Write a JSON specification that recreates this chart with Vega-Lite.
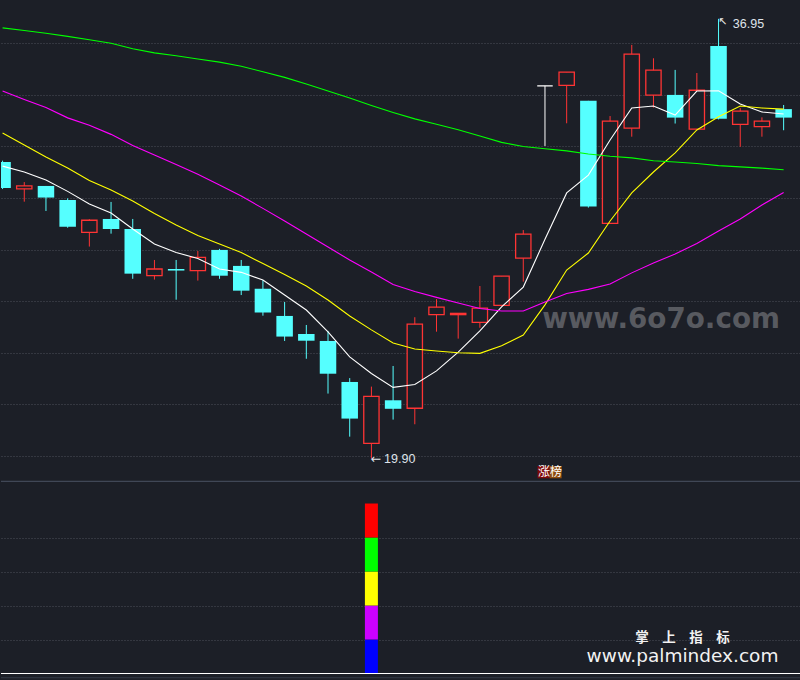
{
  "$schema": "https://vega.github.io/schema/vega-lite/v6.json",
  "background": "#1c1f27",
  "padding": 0,
  "spacing": 0,
  "resolve": {"scale": {"color": "independent", "fill": "independent", "stroke": "independent"}},
  "config": {
    "view": {"stroke": null},
    "axis": {"labels": false, "ticks": false, "domain": false, "minExtent": 0, "maxExtent": 0, "gridColor": "#4c505a", "gridDash": [1, 2], "gridWidth": 1}
  },
  "datasets": {
    "k": [
      {"i":0,"d":"down","o":31.40,"h":31.45,"l":30.35,"c":30.39,"ma5":31.24,"ma10":32.52,"ma20":34.15,"ma60":36.60},
      {"i":1,"d":"up","o":30.36,"h":30.62,"l":29.86,"c":30.47,"ma5":31.01,"ma10":32.06,"ma20":33.82,"ma60":36.50},
      {"i":2,"d":"down","o":30.47,"h":30.47,"l":29.50,"c":30.02,"ma5":30.70,"ma10":31.59,"ma20":33.51,"ma60":36.39},
      {"i":3,"d":"down","o":29.93,"h":29.99,"l":28.85,"c":28.89,"ma5":30.26,"ma10":31.17,"ma20":33.11,"ma60":36.27},
      {"i":4,"d":"up","o":28.67,"h":29.18,"l":28.12,"c":29.14,"ma5":29.77,"ma10":30.68,"ma20":32.82,"ma60":36.14},
      {"i":5,"d":"down","o":29.19,"h":29.85,"l":28.62,"c":28.80,"ma5":29.42,"ma10":30.31,"ma20":32.47,"ma60":36.00},
      {"i":6,"d":"down","o":28.80,"h":29.19,"l":26.87,"c":27.07,"ma5":28.80,"ma10":29.89,"ma20":32.04,"ma60":35.79},
      {"i":7,"d":"up","o":26.99,"h":27.60,"l":26.84,"c":27.25,"ma5":28.22,"ma10":29.40,"ma20":31.67,"ma60":35.63},
      {"i":8,"d":"down","o":27.25,"h":27.60,"l":26.06,"c":27.19,"ma5":27.89,"ma10":28.96,"ma20":31.30,"ma60":35.52},
      {"i":9,"d":"up","o":27.19,"h":27.95,"l":26.80,"c":27.70,"ma5":27.66,"ma10":28.55,"ma20":30.92,"ma60":35.39},
      {"i":10,"d":"down","o":27.99,"h":28.03,"l":26.87,"c":26.99,"ma5":27.25,"ma10":28.22,"ma20":30.51,"ma60":35.27},
      {"i":11,"d":"down","o":27.37,"h":27.60,"l":26.24,"c":26.41,"ma5":27.12,"ma10":27.89,"ma20":30.08,"ma60":35.11},
      {"i":12,"d":"down","o":26.48,"h":26.82,"l":25.44,"c":25.56,"ma5":26.82,"ma10":27.46,"ma20":29.60,"ma60":34.90},
      {"i":13,"d":"down","o":25.43,"h":25.97,"l":24.46,"c":24.63,"ma5":26.24,"ma10":27.04,"ma20":29.11,"ma60":34.68},
      {"i":14,"d":"down","o":24.73,"h":25.08,"l":23.77,"c":24.47,"ma5":25.66,"ma10":26.59,"ma20":28.61,"ma60":34.42},
      {"i":15,"d":"down","o":24.46,"h":24.85,"l":22.42,"c":23.19,"ma5":24.81,"ma10":26.05,"ma20":28.10,"ma60":34.15},
      {"i":16,"d":"down","o":22.87,"h":23.02,"l":20.75,"c":21.45,"ma5":23.84,"ma10":25.43,"ma20":27.60,"ma60":33.88},
      {"i":17,"d":"up","o":20.49,"h":22.69,"l":19.90,"c":22.31,"ma5":23.20,"ma10":24.89,"ma20":27.13,"ma60":33.59},
      {"i":18,"d":"down","o":22.16,"h":23.49,"l":21.41,"c":21.83,"ma5":22.66,"ma10":24.38,"ma20":26.65,"ma60":33.32},
      {"i":19,"d":"up","o":21.85,"h":25.38,"l":21.23,"c":25.11,"ma5":22.77,"ma10":24.15,"ma20":26.38,"ma60":33.07},
      {"i":20,"d":"up","o":25.48,"h":26.08,"l":24.82,"c":25.77,"ma5":23.30,"ma10":24.07,"ma20":26.15,"ma60":32.86},
      {"i":21,"d":"up","o":25.48,"h":25.53,"l":24.55,"c":25.53,"ma5":24.03,"ma10":24.00,"ma20":25.93,"ma60":32.65},
      {"i":22,"d":"up","o":25.18,"h":26.59,"l":24.97,"c":25.73,"ma5":24.85,"ma10":23.98,"ma20":25.72,"ma60":32.41},
      {"i":23,"d":"up","o":25.84,"h":26.97,"l":25.84,"c":26.97,"ma5":25.78,"ma10":24.27,"ma20":25.62,"ma60":32.16},
      {"i":24,"d":"up","o":27.67,"h":28.76,"l":26.76,"c":28.60,"ma5":26.55,"ma10":24.69,"ma20":25.62,"ma60":32.00},
      {"i":25,"d":"flat","o":34.35,"h":34.35,"l":32.02,"c":34.35,"ma5":28.40,"ma10":25.86,"ma20":25.97,"ma60":31.91},
      {"i":26,"d":"up","o":34.37,"h":34.88,"l":32.90,"c":34.88,"ma5":30.20,"ma10":27.21,"ma20":26.30,"ma60":31.83},
      {"i":27,"d":"down","o":33.77,"h":33.77,"l":29.63,"c":29.67,"ma5":30.89,"ma10":27.87,"ma20":26.46,"ma60":31.71},
      {"i":28,"d":"up","o":29.02,"h":33.18,"l":29.02,"c":32.98,"ma5":32.25,"ma10":29.11,"ma20":26.67,"ma60":31.62},
      {"i":29,"d":"up","o":32.71,"h":35.94,"l":32.38,"c":35.58,"ma5":33.49,"ma10":30.20,"ma20":27.10,"ma60":31.56},
      {"i":30,"d":"up","o":33.99,"h":35.42,"l":33.51,"c":34.96,"ma5":33.57,"ma10":31.01,"ma20":27.48,"ma60":31.45},
      {"i":31,"d":"down","o":34.00,"h":34.97,"l":32.89,"c":33.12,"ma5":33.22,"ma10":31.75,"ma20":27.83,"ma60":31.40},
      {"i":32,"d":"up","o":32.67,"h":34.85,"l":32.67,"c":34.18,"ma5":34.15,"ma10":32.64,"ma20":28.24,"ma60":31.34},
      {"i":33,"d":"down","o":35.90,"h":36.95,"l":33.05,"c":33.08,"ma5":34.16,"ma10":33.15,"ma20":28.72,"ma60":31.26},
      {"i":34,"d":"up","o":32.86,"h":33.49,"l":31.99,"c":33.37,"ma5":33.65,"ma10":33.57,"ma20":29.19,"ma60":31.21},
      {"i":35,"d":"up","o":32.77,"h":33.13,"l":32.38,"c":32.98,"ma5":33.34,"ma10":33.49,"ma20":29.73,"ma60":31.16},
      {"i":36,"d":"down","o":33.45,"h":33.61,"l":32.63,"c":33.12,"ma5":33.26,"ma10":33.45,"ma20":30.22,"ma60":31.10}
    ],
    "bars": [
      {"i":17,"lvl":1,"band":"b1","v":1},
      {"i":17,"lvl":2,"band":"b2","v":1},
      {"i":17,"lvl":3,"band":"b3","v":1},
      {"i":17,"lvl":4,"band":"b4","v":1},
      {"i":17,"lvl":5,"band":"b5","v":1}
    ]
  },
  "vconcat": [
    {
      "width": 800,
      "height": 480,
      "layer": [
        {
          "data": {"name": "k"},
          "mark": {"type": "rule", "clip": true, "strokeWidth": 1},
          "encoding": {
            "x": {"field": "i", "type": "quantitative", "scale": {"domain": [0.158, 36.57], "nice": false, "zero": false}, "axis": null},
            "y": {"field": "l", "type": "quantitative", "scale": {"domain": [19.069, 37.68], "nice": false, "zero": false}, "axis": {"grid": true, "values": [20, 22, 24, 26, 28, 30, 32, 34, 36], "title": null}},
            "y2": {"field": "h"},
            "color": {"field": "d", "type": "nominal", "scale": {"domain": ["up", "down", "flat"], "range": ["#ff3434", "#55ffff", "#ffffff"]}, "legend": null}
          }
        },
        {
          "data": {"name": "k"},
          "transform": [{"filter": "datum.d == 'down'"}],
          "mark": {"type": "bar", "clip": true, "width": 16.5, "fill": "#55ffff"},
          "encoding": {"x": {"field": "i", "type": "quantitative"}, "y": {"field": "o", "type": "quantitative"}, "y2": {"field": "c"}}
        },
        {
          "data": {"name": "k"},
          "transform": [{"filter": "datum.d == 'up'"}],
          "mark": {"type": "bar", "clip": true, "width": 15.3, "fill": "#1c1f27", "stroke": "#ff3434", "strokeWidth": 1.3},
          "encoding": {"x": {"field": "i", "type": "quantitative"}, "y": {"field": "o", "type": "quantitative"}, "y2": {"field": "c"}}
        },
        {
          "data": {"name": "k"},
          "transform": [{"filter": "datum.d == 'flat'"}],
          "mark": {"type": "bar", "clip": true, "width": 15.5, "fill": "#ffffff", "stroke": "#ffffff", "strokeWidth": 1.3},
          "encoding": {"x": {"field": "i", "type": "quantitative"}, "y": {"field": "o", "type": "quantitative"}, "y2": {"field": "c"}}
        },
        {
          "data": {"name": "k"},
          "transform": [{"fold": ["ma5", "ma10", "ma20", "ma60"], "as": ["ma", "v"]}],
          "mark": {"type": "line", "clip": true, "strokeWidth": 1.1},
          "encoding": {
            "x": {"field": "i", "type": "quantitative"},
            "y": {"field": "v", "type": "quantitative"},
            "stroke": {"field": "ma", "type": "nominal", "scale": {"domain": ["ma5", "ma10", "ma20", "ma60"], "range": ["#ffffff", "#ffff00", "#ff00ff", "#00ff00"]}, "legend": null}
          }
        },
        {
          "data": {"values": [{"t": "www.6o7o.com"}]},
          "mark": {"type": "text", "font": "DejaVu Sans", "fontWeight": "bold", "fontSize": 27.8, "fill": "#585a60", "align": "center", "baseline": "alphabetic"},
          "encoding": {"x": {"datum": 30.35, "type": "quantitative"}, "y": {"datum": 24.95, "type": "quantitative"}, "text": {"field": "t"}}
        },
        {
          "data": {"values": [{"i": 17, "p": 19.90, "t": "19.90", "a": "←"}]},
          "layer": [
            {
              "mark": {"type": "text", "font": "DejaVu Sans", "fontSize": 12.5, "fill": "#dfe3ea", "align": "left", "baseline": "middle", "dx": -1},
              "encoding": {"x": {"field": "i", "type": "quantitative"}, "y": {"field": "p", "type": "quantitative"}, "text": {"field": "a"}}
            },
            {
              "mark": {"type": "text", "font": "Liberation Sans", "fontSize": 12.5, "fill": "#dfe3ea", "align": "left", "baseline": "middle", "dx": 12.7},
              "encoding": {"x": {"field": "i", "type": "quantitative"}, "y": {"field": "p", "type": "quantitative"}, "text": {"field": "t"}}
            }
          ]
        },
        {
          "data": {"values": [{"i": 33, "p": 36.95, "t": "36.95", "a": "↖"}]},
          "layer": [
            {
              "mark": {"type": "text", "font": "DejaVu Sans", "fontSize": 11, "fill": "#e8e8e8", "align": "left", "baseline": "middle", "dx": -0.5, "dy": 3},
              "encoding": {"x": {"field": "i", "type": "quantitative"}, "y": {"field": "p", "type": "quantitative"}, "text": {"field": "a"}}
            },
            {
              "mark": {"type": "text", "font": "Liberation Sans", "fontSize": 12.5, "fill": "#dfe3ea", "align": "left", "baseline": "middle", "dx": 14.3, "dy": 5},
              "encoding": {"x": {"field": "i", "type": "quantitative"}, "y": {"field": "p", "type": "quantitative"}, "text": {"field": "t"}}
            }
          ]
        },
        {
          "data": {"values": [{"t": "涨"}]},
          "mark": {"type": "rect", "fill": "#800a0a"},
          "encoding": {"x": {"datum": 24.658, "type": "quantitative"}, "x2": {"datum": 25.214}, "y": {"datum": 19.612, "type": "quantitative"}, "y2": {"datum": 19.135}}
        },
        {
          "data": {"values": [{"t": "榜"}]},
          "mark": {"type": "rect", "fill": "#8e4c0e"},
          "encoding": {"x": {"datum": 25.214, "type": "quantitative"}, "x2": {"datum": 25.769}, "y": {"datum": 19.612, "type": "quantitative"}, "y2": {"datum": 19.135}}
        },
        {
          "data": {"values": [{"i": 25, "tag": "涨榜"}]},
          "mark": {"type": "text", "font": "Noto Sans CJK SC", "fontSize": 12, "fill": "#ffffff", "align": "center", "baseline": "middle", "dx": 4.9},
          "encoding": {"x": {"field": "i", "type": "quantitative"}, "y": {"datum": 19.372, "type": "quantitative"}, "text": {"field": "tag"}}
        }
      ]
    },
    {
      "width": 800,
      "height": 200,
      "layer": [
        {
          "data": {"name": "bars"},
          "mark": {"type": "bar", "width": 13},
          "encoding": {
            "x": {"field": "i", "type": "quantitative", "scale": {"domain": [0.158, 36.57], "nice": false, "zero": false}, "axis": null},
            "y": {"field": "v", "type": "quantitative", "stack": "zero", "scale": {"domain": [-0.2206, 5.662], "nice": false, "zero": false}, "axis": {"grid": true, "values": [1, 2, 3, 4], "title": null}},
            "order": {"field": "lvl", "type": "quantitative"},
            "fill": {"field": "band", "type": "nominal", "scale": {"domain": ["b1", "b2", "b3", "b4", "b5"], "range": ["#0000ff", "#cc00ff", "#ffff00", "#00ff00", "#ff0000"]}, "legend": null}
          }
        },
        {
          "data": {"values": [{"t": "base"}]},
          "mark": {"type": "rule", "color": "#ffffff", "strokeWidth": 1.2},
          "encoding": {"y": {"datum": 0, "type": "quantitative"}}
        },
        {
          "data": {"values": [{"t": "divider"}]},
          "mark": {"type": "rule", "color": "#404756", "strokeWidth": 1.2},
          "encoding": {"y": {"datum": 5.65, "type": "quantitative"}}
        },
        {
          "data": {"values": [{"t": "edge"}]},
          "mark": {"type": "rule", "color": "#343a46", "strokeWidth": 1},
          "encoding": {"y": {"datum": -0.125, "type": "quantitative"}}
        },
        {
          "data": {"values": [{"t": "掌　上　指　标"}]},
          "mark": {"type": "text", "font": "Noto Sans CJK SC", "fontWeight": "bold", "fontSize": 13.5, "fill": "#f2f2f2", "align": "center", "baseline": "middle"},
          "encoding": {"x": {"datum": 31.34, "type": "quantitative"}, "y": {"datum": 1.05, "type": "quantitative"}, "text": {"field": "t"}}
        },
        {
          "data": {"values": [{"t": "www.palmindex.com"}]},
          "mark": {"type": "text", "font": "DejaVu Sans", "fontSize": 18.5, "fill": "#f2f2f2", "align": "center", "baseline": "alphabetic"},
          "encoding": {"x": {"datum": 31.34, "type": "quantitative"}, "y": {"datum": 0.335, "type": "quantitative"}, "text": {"field": "t"}}
        }
      ]
    }
  ]
}
